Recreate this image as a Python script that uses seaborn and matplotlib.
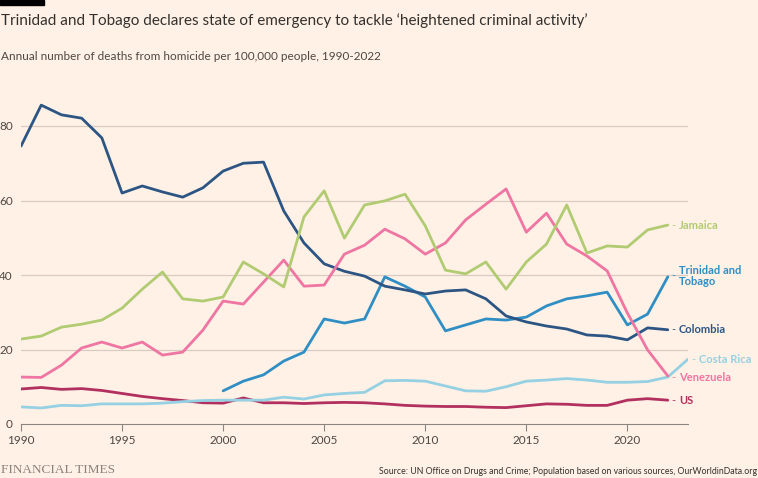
import numpy as np
import pandas as pd
import matplotlib
matplotlib.use("Agg")
import matplotlib.pyplot as plt
import seaborn as sns

years = list(range(1990, 2024))
nan = np.nan

colombia = [74.6, 85.6, 83.0, 82.1, 76.8, 62.0, 63.9, 62.3, 60.9, 63.4, 67.9, 70.0, 70.3, 57.2, 48.6, 43.0,
            41.0, 39.7, 37.0, 36.0, 34.9, 35.7, 36.0, 33.6, 29.0, 27.4, 26.3, 25.5, 23.9, 23.6, 22.6, 25.8, 25.3, nan]
jamaica = [22.8, 23.6, 26.0, 26.8, 27.9, 31.1, 36.2, 40.8, 33.6, 33.0, 34.1, 43.5, 40.3, 36.8, 55.6, 62.6,
           49.9, 58.8, 59.9, 61.7, 53.2, 41.3, 40.3, 43.5, 36.2, 43.5, 48.3, 58.8, 45.9, 47.8, 47.5, 52.1, 53.4, nan]
venezuela = [12.6, 12.5, 15.8, 20.4, 22.0, 20.4, 22.0, 18.5, 19.3, 25.2, 33.0, 32.2, 38.1, 44.0, 37.0, 37.3,
             45.6, 48.0, 52.3, 49.7, 45.6, 48.6, 54.8, 59.0, 63.1, 51.5, 56.6, 48.3, 45.1, 41.1, 29.8, 19.9, 12.9, nan]
trinidad = [nan] * 10 + [8.9, 11.5, 13.2, 16.9, 19.3, 28.2, 27.1, 28.2, 39.5, 37.0, 34.1, 25.0, 26.6, 28.2,
                         27.9, 28.7, 31.7, 33.6, 34.4, 35.4, 26.6, 29.5, 39.5, nan]
costa_rica = [4.6, 4.3, 5.0, 4.9, 5.4, 5.4, 5.4, 5.6, 6.0, 6.3, 6.4, 6.4, 6.4, 7.2, 6.7, 7.8,
              8.2, 8.5, 11.6, 11.7, 11.5, 10.2, 8.9, 8.8, 10.0, 11.5, 11.8, 12.2, 11.8, 11.2, 11.2, 11.4, 12.6, 17.4]
us = [9.4, 9.8, 9.3, 9.5, 9.0, 8.2, 7.4, 6.8, 6.3, 5.7, 5.6, 7.0, 5.7, 5.7, 5.5, 5.7,
      5.8, 5.7, 5.4, 5.0, 4.8, 4.7, 4.7, 4.5, 4.4, 4.9, 5.4, 5.3, 5.0, 5.0, 6.4, 6.8, 6.4, nan]

series = {
    "US": us,
    "Costa Rica": costa_rica,
    "Trinidad and Tobago": trinidad,
    "Colombia": colombia,
    "Venezuela": venezuela,
    "Jamaica": jamaica,
}
colors = {
    "Colombia": "#2c5584",
    "Jamaica": "#b1cb72",
    "Venezuela": "#ef75a3",
    "Trinidad and Tobago": "#2f8ec4",
    "Costa Rica": "#95d0e3",
    "US": "#b1305f",
}
labels = {
    "Jamaica": ("Jamaica", 53.4, 2022),
    "Trinidad and Tobago": ("Trinidad and\nTobago", 39.8, 2022),
    "Colombia": ("Colombia", 25.3, 2022),
    "Costa Rica": ("Costa Rica", 17.4, 2023),
    "Venezuela": ("Venezuela", 12.4, 2022),
    "US": ("US", 6.4, 2022),
}

rows = []
for name, vals in series.items():
    for y, v in zip(years, vals):
        rows.append({"year": y, "value": v, "country": name})
df = pd.DataFrame(rows).dropna()

BG = "#fff1e5"
sns.set_theme(style="white")
plt.rcParams["font.family"] = ["Lato", "DejaVu Sans"]

fig = plt.figure(figsize=(7.58, 4.78), dpi=100, facecolor=BG)
ax = fig.add_axes([21 / 758, (478 - 424) / 478, (688 - 21) / 758, (424 - 88.75) / 478])
ax.set_facecolor(BG)

for yv in [20, 40, 60, 80]:
    ax.axhline(yv, color="#d8ccc2", lw=0.9, zorder=0)

sns.lineplot(data=df, x="year", y="value", hue="country", palette=colors,
             hue_order=list(series.keys()), linewidth=2.0, ax=ax, legend=False, zorder=3)

ax.set_xlim(1990, 2023)
ax.set_ylim(0, 90)
for s in ["top", "right", "left"]:
    ax.spines[s].set_visible(False)
ax.spines["bottom"].set_color("#8c8580")
ax.spines["bottom"].set_linewidth(0.8)
ax.set_xticks([1990, 1995, 2000, 2005, 2010, 2015, 2020])
ax.set_yticks([0, 20, 40, 60, 80])
ax.tick_params(axis="x", length=5, width=0.8, color="#8c8580", labelsize=8.5,
               labelcolor="#4d4845", pad=3, direction="out", bottom=True)
ax.tick_params(axis="y", length=0, labelsize=8.5, labelcolor="#4d4845", pad=6, left=False)
ax.set_xlabel("")
ax.set_ylabel("")

for name, (txt, yv, xv) in labels.items():
    ax.annotate("- ", xy=(xv, yv), xytext=(3, 0), textcoords="offset points",
                color=colors[name], fontsize=8, va="center", ha="left", annotation_clip=False)
    ax.annotate(txt, xy=(xv, yv), xytext=(8, 0), textcoords="offset points",
                color=colors[name], fontsize=8, fontweight="bold", va="center", ha="left",
                linespacing=1.05, annotation_clip=False)

# Header bar, title, subtitle
fig.patches.append(plt.Rectangle((0, 1 - 5 / 478), 44 / 758, 5 / 478, transform=fig.transFigure,
                                 color="#000000", zorder=5))
fig.text(1 / 758, 1 - 21 / 478, "Trinidad and Tobago declares state of emergency to tackle \u2018heightened criminal activity\u2019",
         fontsize=11.0, color="#33302e", va="center", ha="left")
fig.text(1 / 758, 1 - 56 / 478, "Annual number of deaths from homicide per 100,000 people, 1990-2022",
         fontsize=8.45, color="#4d4845", va="center", ha="left")

fig.text(1 / 758, 1 - 470 / 478, "FINANCIAL TIMES", family=["Liberation Serif", "DejaVu Serif"],
         fontsize=9.5, color="#8a827c", va="center", ha="left")
fig.text(757 / 758, 1 - 471 / 478,
         "Source: UN Office on Drugs and Crime; Population based on various sources, OurWorldinData.org",
         fontsize=6.3, color="#33302e", va="center", ha="right")

fig.savefig("out.png", dpi=100, facecolor=BG)
